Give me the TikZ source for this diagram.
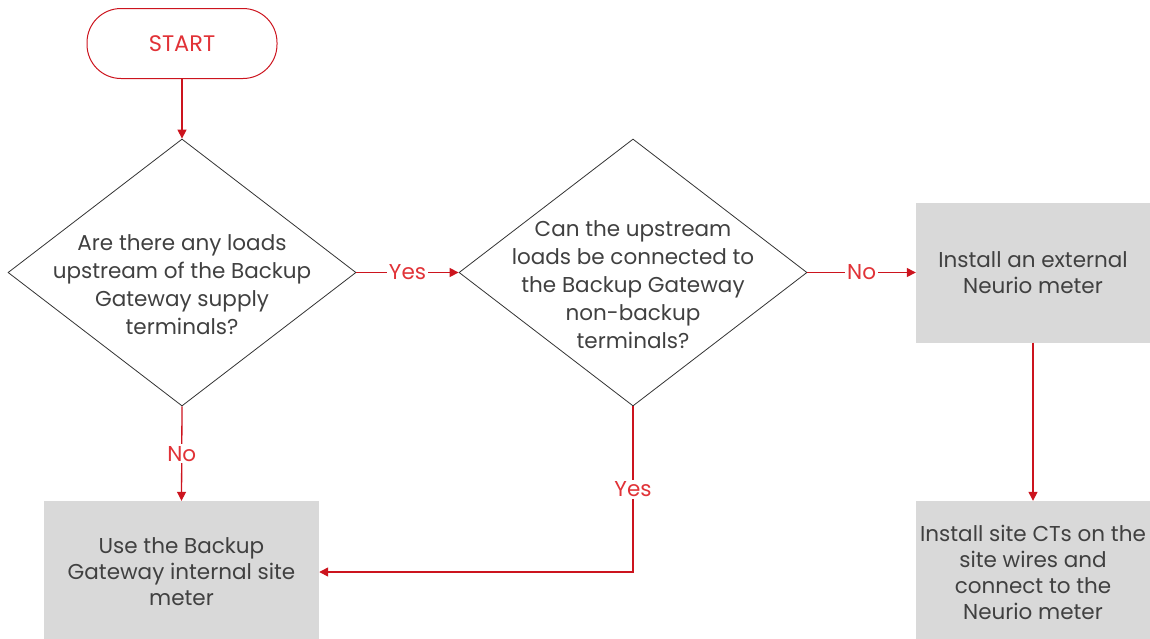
\documentclass[tikz,border=0pt]{standalone}
\usepackage{fontspec}
\setmainfont{Poppins}
\usetikzlibrary{shapes.geometric,arrows.meta}
\definecolor{fred}{RGB}{204,20,30}
\definecolor{lred}{RGB}{225,50,55}
\definecolor{tgray}{RGB}{64,64,64}
\definecolor{boxgray}{RGB}{217,217,217}
\tikzset{
  conn/.style={draw=fred, line width=1.3pt, -{Triangle[length=9pt,width=9pt]}},
  lbl/.style={fill=white, text=lred, font=\fontsize{21.5}{24}\selectfont, inner sep=2pt},
  dia/.style={draw=black!80, line width=0.8pt, diamond, minimum width=348pt, minimum height=267pt, inner sep=0pt},
  dtext/.style={text=tgray, font=\fontsize{21.5}{28}\selectfont, align=center},
  gbox/.style={fill=boxgray, draw=none, text=tgray, font=\fontsize{21.5}{26}\selectfont, align=center, inner sep=0pt},
  term/.style={draw=fred, line width=1pt, rounded corners=34pt, minimum width=190pt, minimum height=70pt, text=lred, font=\fontsize{22.5}{24}\selectfont}
}
\begin{document}
\begin{tikzpicture}[x=1pt,y=-1pt]
\useasboundingbox (0,0) rectangle (1150,638);
\node[term] (start) at (182,43.5) {START};
\node[dia] (d1) at (182,272.5) {};
\node[dtext] (d1t) at (182,285) {Are there any loads\\upstream of the Backup\\Gateway supply\\terminals?};
\node[dia] (d2) at (633,272.5) {};
\node[dtext] (d2t) at (633,285) {Can the upstream\\loads be connected to\\the Backup Gateway\\non-backup\\terminals?};
\node[gbox, minimum width=234pt, minimum height=140pt] (b3) at (1033,272.5) {Install an external\\Neurio meter};
\node[gbox, minimum width=275pt, minimum height=142pt] (b4) at (181.5,572) {Use the Backup\\Gateway internal site\\meter};
\node[gbox, minimum width=234pt, minimum height=142pt] (b5) at (1033,572) {Install site CTs on the\\site wires and\\connect to the\\Neurio meter};
\coordinate (corner) at (633,572);
\draw[conn] (start.south) -- (d1.north);
\draw[conn] (d1.east) -- node[lbl] (y1) {Yes} (d2.west);
\draw[conn] (d2.east) -- node[lbl] (n2) {No} (b3.west);
\draw[conn] (d1.south) -- node[lbl] (n1) {No} (b4.north);
\draw[conn] (d2.south) -- node[lbl, pos=0.5] (y2) {Yes} (corner) -- (b4.east |- corner);
\draw[conn] (b3.south) -- (b5.north);
\end{tikzpicture}
\end{document}
